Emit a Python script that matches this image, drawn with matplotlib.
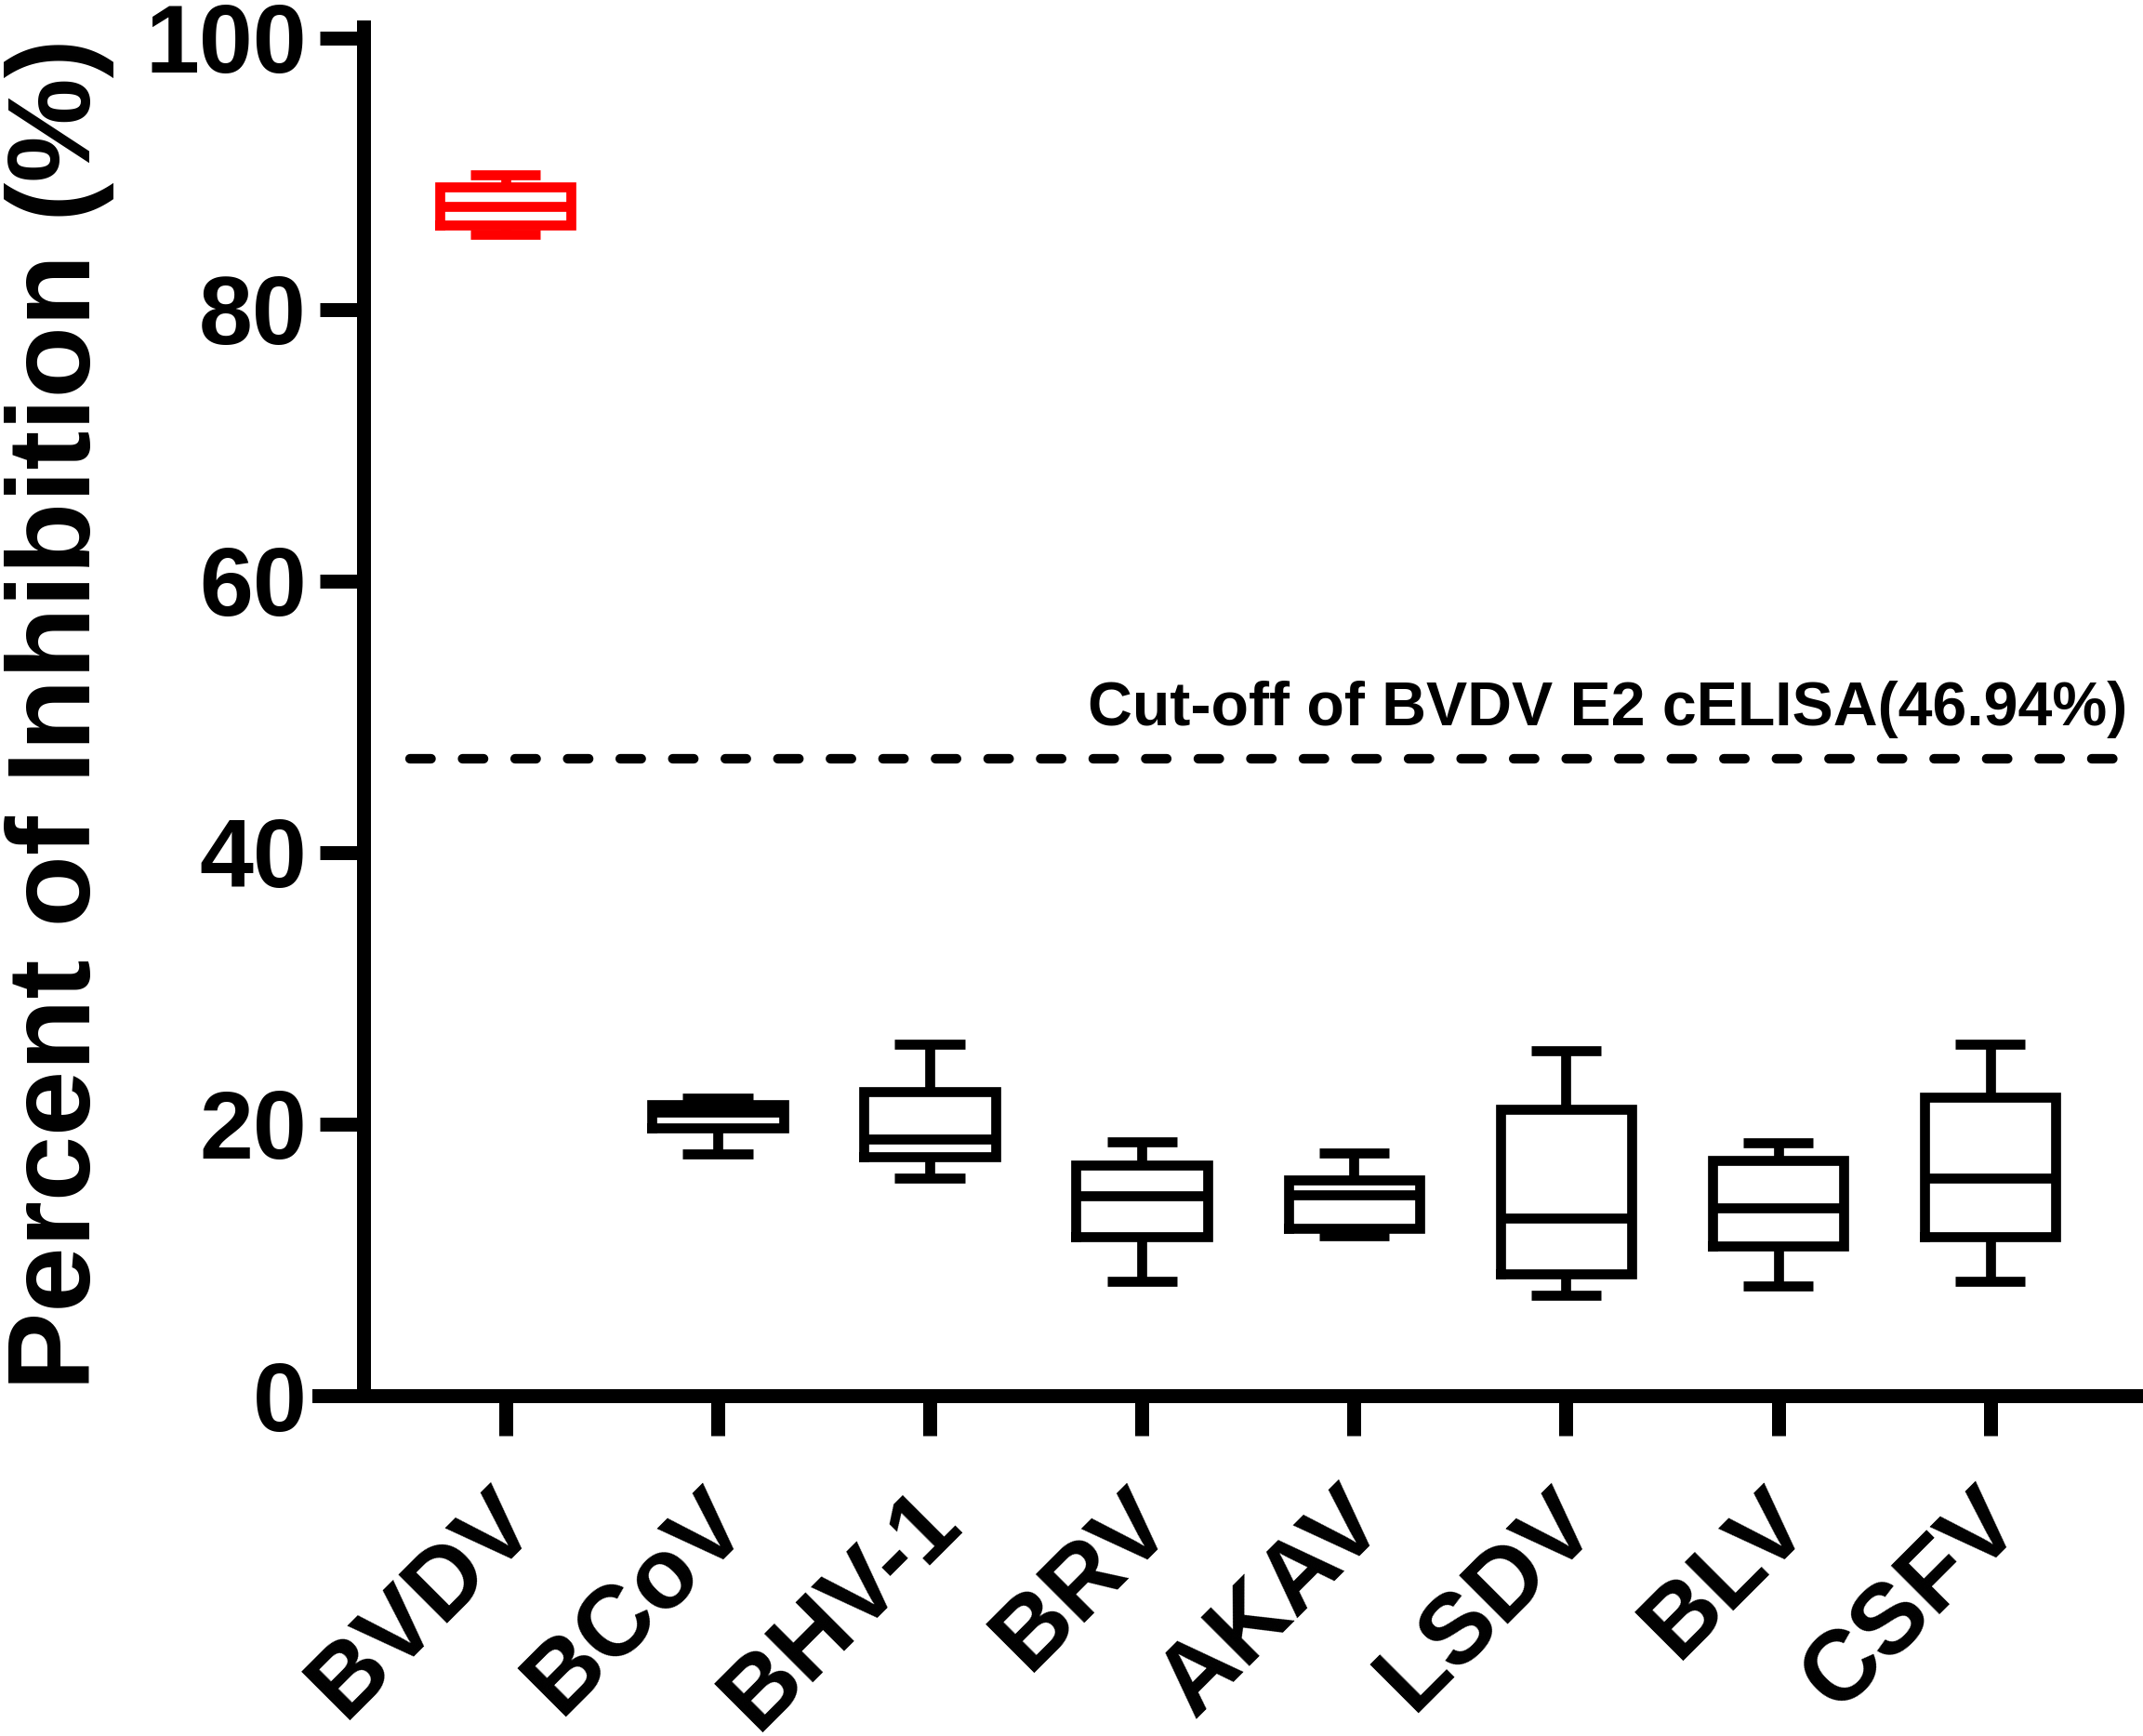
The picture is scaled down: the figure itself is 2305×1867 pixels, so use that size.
import matplotlib
matplotlib.use("Agg")
import matplotlib.pyplot as plt
from matplotlib.transforms import ScaledTranslation

plt.rcParams['font.family'] = ['Liberation Sans', 'DejaVu Sans']

categories = ["BVDV", "BCoV", "BHV-1", "BRV", "AKAV", "LSDV", "BLV", "CSFV"]
whislo = [85.5, 17.8, 16.0, 8.4, 11.8, 7.4, 8.1, 8.4]
q1     = [86.2, 19.7, 17.6, 11.7, 12.3, 9.0, 11.0, 11.7]
median = [87.6, 20.9, 18.9, 14.7, 14.8, 13.1, 13.8, 16.0]
q3     = [89.0, 21.4, 22.4, 17.0, 15.9, 21.1, 17.3, 22.0]
whishi = [89.9, 21.9, 25.9, 18.7, 17.9, 25.4, 18.6, 25.9]
colors = ["#FF0000"] + ["#000000"] * 7
cutoff = 46.94
cutoff_label = "Cut-off of BVDV E2 cELISA(46.94%)"
yticks = [0, 20, 40, 60, 80, 100]

fig = plt.figure(figsize=(23.05, 18.67), dpi=100)
ax = fig.add_axes([343/2305, 366/1867, 1 - 343/2305, (1838-366)/1867])

ax.spines['top'].set_visible(False)
ax.spines['right'].set_visible(False)
ax.spines['left'].set_position(('data', -0.67))
ax.spines['left'].set_linewidth(10.8)
ax.spines['bottom'].set_linewidth(10.8)

stats = []
for i, name in enumerate(categories):
    stats.append(dict(label=name, med=median[i], q1=q1[i], q3=q3[i],
                      whislo=whislo[i], whishi=whishi[i], fliers=[]))

lw = 7.7
res = ax.bxp(stats, positions=list(range(len(categories))), widths=0.62,
             capwidths=0.33, showfliers=False, patch_artist=False,
             boxprops=dict(linewidth=lw, solid_joinstyle='miter'),
             medianprops=dict(linewidth=lw, solid_capstyle='butt'),
             whiskerprops=dict(linewidth=lw, solid_capstyle='butt'),
             capprops=dict(linewidth=lw, solid_capstyle='butt'))
for i, c in enumerate(colors):
    res['boxes'][i].set_color(c)
    res['medians'][i].set_color(c)
    for art in res['whiskers'][2*i:2*i+2] + res['caps'][2*i:2*i+2]:
        art.set_color(c)

ax.plot([-0.45, 7.61], [cutoff, cutoff], color='black', linewidth=7.4,
        linestyle=(0, (2.2, 3.3)), dash_capstyle='round')
ax.text(7.645, 49.35, cutoff_label, ha='right', va='baseline',
        fontsize=47.7, fontweight='bold')

ax.set_xlim(-0.88, 7.72)
ax.set_ylim(0, 100.8)
ax.set_yticks(yticks)
ax.set_yticklabels([str(v) for v in yticks], fontsize=75, fontweight='bold')
ax.set_xticks(range(len(categories)))
ax.set_xticklabels(categories, fontsize=77, fontweight='bold', rotation=45,
                   ha='right', va='center', rotation_mode='anchor')

ax.tick_params(axis='y', length=34, width=10.8, pad=10, direction='out')
ax.tick_params(axis='x', length=31, width=10.8, pad=55, direction='out')

offset = ScaledTranslation(12/72, 0, fig.dpi_scale_trans)
for lbl in ax.get_xticklabels():
    lbl.set_transform(lbl.get_transform() + offset)

fig.text(97/2305, 1 - 768/1867, "Percent of Inhibition (%)", rotation=90,
         rotation_mode='anchor', ha='center', va='baseline',
         fontsize=91, fontweight='bold')

fig.savefig("out.png", dpi=100)
